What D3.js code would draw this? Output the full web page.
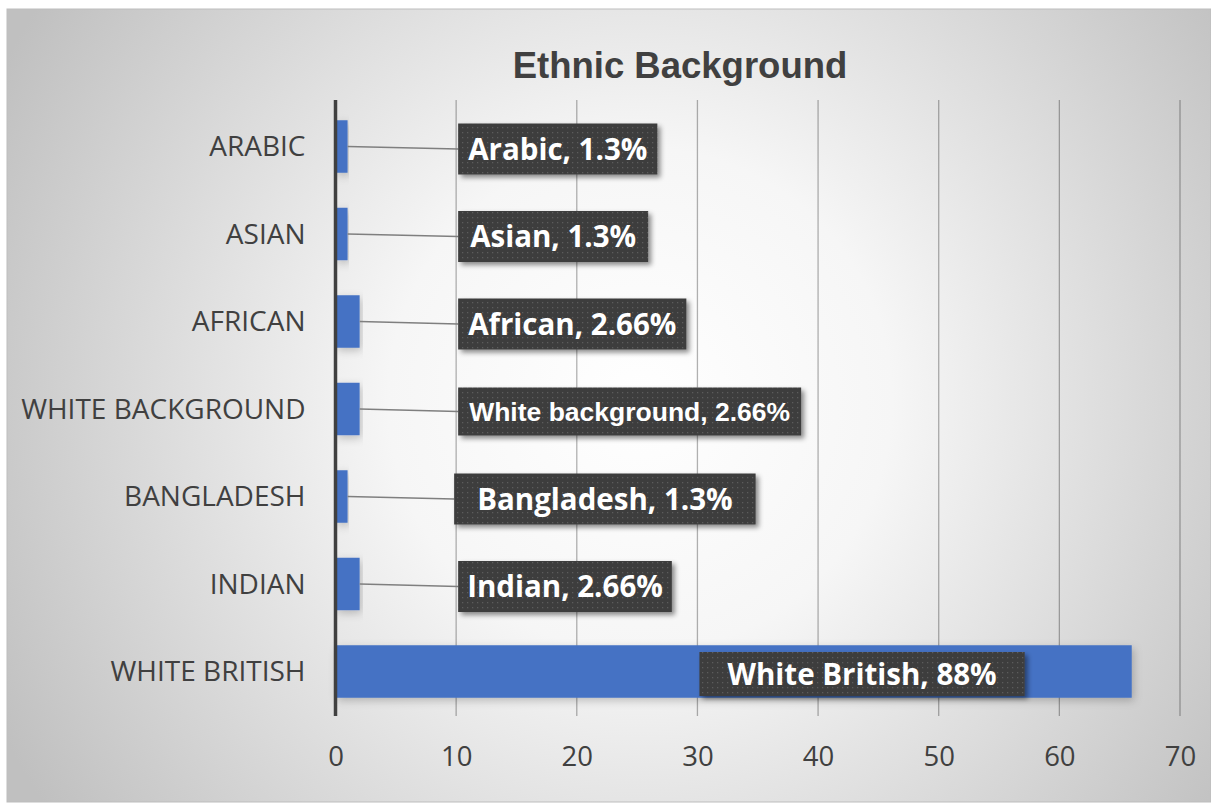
<!DOCTYPE html>
<html>
<head>
<meta charset="utf-8">
<script src="https://cdn.jsdelivr.net/npm/d3@7"></script>
<style>
  html, body { margin: 0; padding: 0; background: #fff; }
  svg { display: block; }
</style>
</head>
<body>
<div class="chart"></div>
<script>
const width = 1211;
const height = 805;

// data
const categories = ['ARABIC', 'ASIAN', 'AFRICAN', 'WHITE BACKGROUND', 'BANGLADESH', 'INDIAN', 'WHITE BRITISH'];
const values = [1, 1, 2, 2, 1, 2, 66];
const labelNames = ['Arabic', 'Asian', 'African', 'White background', 'Bangladesh', 'Indian', 'White British'];
const labelPercents = ['1.3%', '1.3%', '2.66%', '2.66%', '1.3%', '2.66%', '88%'];
const xTicks = [0, 10, 20, 30, 40, 50, 60, 70];

// label box side padding (boxes were resized by hand in the original)
const boxPad = [10, 12, 10, 11, 23, 9, 28];

const rows = categories.map((c, i) => ({
  cat: c,
  value: values[i],
  label: labelNames[i] + ', ' + labelPercents[i],
  pad: boxPad[i]
}));

const svg = d3
  .select('.chart')
  .append('svg')
  .attr('width', width)
  .attr('height', height);

const defs = svg.append('defs');

const bg = defs.append('radialGradient')
  .attr('id', 'bg')
  .attr('gradientUnits', 'userSpaceOnUse')
  .attr('cx', 640).attr('cy', 400).attr('r', 720);
bg.append('stop').attr('offset', '0').attr('stop-color', '#ffffff');
bg.append('stop').attr('offset', '0.35').attr('stop-color', '#f6f6f6');
bg.append('stop').attr('offset', '1').attr('stop-color', '#c0c0c0');

const dots = defs.append('pattern')
  .attr('id', 'dots')
  .attr('patternUnits', 'userSpaceOnUse')
  .attr('width', 5).attr('height', 5);
dots.append('rect').attr('width', 5).attr('height', 5).attr('fill', '#3e3e3e');
dots.append('rect').attr('x', 2).attr('y', 2).attr('width', 1.2).attr('height', 1.2).attr('fill', '#5c5c5c');

const shadow = defs.append('filter').attr('id', 'shadow')
  .attr('x', '-10%').attr('y', '-20%').attr('width', '130%').attr('height', '160%');
shadow.append('feDropShadow')
  .attr('dx', 3).attr('dy', 3).attr('stdDeviation', 2.5)
  .attr('flood-color', '#000').attr('flood-opacity', 0.45);

const barShadow = defs.append('filter').attr('id', 'barShadow')
  .attr('x', '-5%').attr('y', '-20%').attr('width', '115%').attr('height', '160%');
barShadow.append('feDropShadow')
  .attr('dx', 2).attr('dy', 3).attr('stdDeviation', 4)
  .attr('flood-color', '#000').attr('flood-opacity', 0.22);

// chart area
svg.append('rect')
  .attr('x', 7).attr('y', 9)
  .attr('width', width - 7).attr('height', height - 12)
  .attr('fill', 'url(#bg)')
  .attr('stroke', '#bdbdbd');

svg.append('text')
  .attr('x', 680)
  .attr('y', 78)
  .attr('text-anchor', 'middle')
  .attr('font-family', 'Liberation Sans, Arial, sans-serif')
  .attr('font-weight', 'bold')
  .attr('font-size', 36.5)
  .attr('fill', '#404040')
  .text('Ethnic Background');

const x = d3.scaleLinear().domain([0, 70]).range([335.5, 1180]);
const y = d3.scaleBand()
  .domain(categories)
  .range([102.75, 715.25])
  .paddingInner(0.4)
  .paddingOuter(0.2);

// gridlines
svg.append('g')
  .selectAll('line')
  .data(xTicks.slice(1))
  .enter()
  .append('line')
  .attr('x1', d => x(d)).attr('x2', d => x(d))
  .attr('y1', 100).attr('y2', 716)
  .attr('stroke', 'rgba(0,0,0,0.3)')
  .attr('stroke-width', 1.3);

// bars
svg.append('g')
  .selectAll('rect')
  .data(rows)
  .enter()
  .append('rect')
  .attr('x', x(0))
  .attr('y', d => y(d.cat))
  .attr('width', d => x(d.value) - x(0))
  .attr('height', y.bandwidth())
  .attr('fill', '#4472c4')
  .attr('filter', 'url(#barShadow)');

// vertical axis line
svg.append('line')
  .attr('x1', x(0)).attr('x2', x(0))
  .attr('y1', 100).attr('y2', 716)
  .attr('stroke', '#404040')
  .attr('stroke-width', 3.5);

// category labels
const yAxis = svg.append('g')
  .attr('transform', `translate(${x(0) - 30},0)`)
  .call(d3.axisLeft(y).tickSize(0).tickPadding(0));
yAxis.select('.domain').remove();
yAxis.selectAll('text')
  .attr('font-family', 'Open Sans, sans-serif')
  .attr('font-size', 28)
  .attr('fill', '#404040')
  .attr('dy', '0.35em');

// tick labels
const xAxis = svg.append('g')
  .attr('transform', 'translate(0,766)')
  .call(d3.axisBottom(x).tickValues(xTicks).tickSize(0).tickPadding(0));
xAxis.select('.domain').remove();
xAxis.selectAll('text')
  .attr('font-family', 'Open Sans, sans-serif')
  .attr('font-size', 27.5)
  .attr('fill', '#404040')
  .attr('dy', 0);

// data labels
const labels = svg.append('g')
  .selectAll('g')
  .data(rows)
  .enter()
  .append('g');

labels.each(function (d) {
  const g = d3.select(this);
  const small = d.cat === 'WHITE BACKGROUND';
  const left = (d.value > 30 ? x(30) : x(10)) + (d.cat === 'BANGLADESH' ? -2 : 2);
  const cy = y(d.cat) + y.bandwidth() / 2 + 2.5;
  const bh = small ? 48 : (d.value > 30 ? 44 : 51);

  if (d.value <= 30) {
    g.append('line')
      .attr('x1', x(d.value)).attr('y1', y(d.cat) + y.bandwidth() / 2)
      .attr('x2', left).attr('y2', cy)
      .attr('stroke', '#7f7f7f')
      .attr('stroke-width', 1.6);
  }

  const box = g.append('rect');
  const t = g.append('text')
    .attr('font-family', small ? 'Liberation Sans, Arial, sans-serif' : 'Open Sans, sans-serif')
    .attr('font-weight', 'bold')
    .attr('font-size', small ? 26.5 : 29.5)
    .attr('fill', '#ffffff')
    .attr('text-anchor', 'middle')
    .attr('dy', '0.36em')
    .text(d.label);
  const tw = t.node().getComputedTextLength();
  const bw = tw + d.pad * 2;
  box.attr('x', left).attr('y', cy - bh / 2)
    .attr('width', bw).attr('height', bh)
    .attr('fill', 'url(#dots)')
    .attr('filter', 'url(#shadow)');
  t.attr('x', left + bw / 2).attr('y', cy);
});
</script>
</body>
</html>
